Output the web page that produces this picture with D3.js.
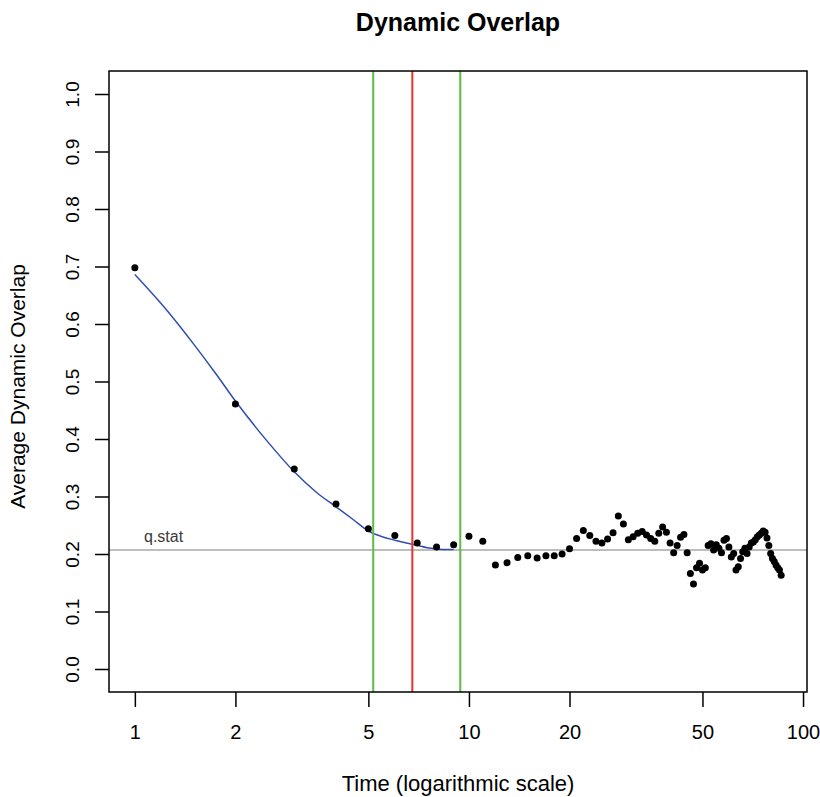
<!DOCTYPE html>
<html><head><meta charset="utf-8">
<script src="https://cdn.jsdelivr.net/npm/d3@7"></script>
<style>body{margin:0;background:#fff}</style>
</head><body>
<script>
const times = d3.range(1, 87);
const overlap = [0.698,0.461,0.348,0.287,0.244,0.232,0.219,0.212,0.216,0.231,
0.222,0.181,0.185,0.194,0.197,0.193,0.197,0.197,0.200,0.209,
0.227,0.241,0.232,0.222,0.219,0.226,0.237,0.266,0.252,0.225,
0.230,0.236,0.239,0.233,0.227,0.222,0.236,0.247,0.238,0.219,
0.202,0.215,0.229,0.234,0.202,0.166,0.148,0.176,0.184,0.172,
0.176,0.215,0.218,0.207,0.216,0.210,0.202,0.224,0.227,0.212,
0.195,0.201,0.172,0.178,0.192,0.204,0.210,0.201,0.212,0.219,
0.221,0.225,0.230,0.233,0.236,0.240,0.238,0.228,0.215,0.201,
0.192,0.187,0.181,0.176,0.172,0.163];
const smoothT = [1,1.25,1.5,1.75,2,2.5,3,3.5,4,4.5,5,5.5,6,6.5,7,7.5,8,8.5,9];
const smoothY = [0.686,0.623,0.565,0.513,0.466,0.395,0.343,0.307,0.282,0.260,0.240,0.230,0.224,0.219,0.215,0.211,0.209,0.208,0.208];
const xTicks = [1,2,5,10,20,50,100];
const yTicks = [0,0.1,0.2,0.3,0.4,0.5,0.6,0.7,0.8,0.9,1.0];
const qStat = 0.207;
const greenLines = [5.17, 9.42];
const redLine = 6.77;

const W = 820, H = 797;
const L = 109, R = 807, T = 71, B = 692;
const FONT = "'Liberation Sans', Arial, sans-serif";
const svg = d3.select("body").append("svg").attr("width", W).attr("height", H)
  .style("font-family", FONT);

const lmin = 0, lmax = Math.log10(86), ext = (lmax - lmin) * 0.04;
const x = d3.scaleLog().domain([Math.pow(10, lmin - ext), Math.pow(10, lmax + ext)]).range([L, R]);
const y = d3.scaleLinear().domain([-0.04, 1.04]).range([B, T]);

svg.append("clipPath").attr("id", "c").append("rect")
  .attr("x", L).attr("y", T).attr("width", R - L).attr("height", B - T);
const g = svg.append("g").attr("clip-path", "url(#c)");

// q.stat line
g.append("line").attr("x1", L).attr("x2", R).attr("y1", y(qStat)).attr("y2", y(qStat))
  .attr("stroke", "#bdbdbd").attr("stroke-width", 2);
svg.append("text").attr("x", 144).attr("y", 542).text("q.stat")
  .attr("font-size", 16).attr("fill", "#3a3a3a");

// smooth line
g.append("path").datum(smoothT.map((t, i) => [t, smoothY[i]]))
  .attr("d", d3.line().x(d => x(d[0])).y(d => y(d[1])).curve(d3.curveMonotoneX))
  .attr("fill", "none").attr("stroke", "#2f4fb0").attr("stroke-width", 1.5);

// vertical lines
greenLines.forEach(v => g.append("line").attr("x1", x(v)).attr("x2", x(v)).attr("y1", T).attr("y2", B)
  .attr("stroke", "#5cbc45").attr("stroke-width", 2));
g.append("line").attr("x1", x(redLine)).attr("x2", x(redLine)).attr("y1", T).attr("y2", B)
  .attr("stroke", "#e8322c").attr("stroke-width", 2);

// points
g.selectAll("circle.p").data(times.map((t, i) => [t, overlap[i]])).enter().append("circle")
  .attr("cx", d => x(d[0])).attr("cy", d => y(d[1])).attr("r", 3.5).attr("fill", "#000");

// box
svg.append("rect").attr("x", L).attr("y", T).attr("width", R - L).attr("height", B - T)
  .attr("fill", "none").attr("stroke", "#000").attr("stroke-width", 1.5);

// x axis
const xa = svg.append("g").attr("transform", `translate(0,${B})`)
  .call(d3.axisBottom(x).tickValues(xTicks).tickFormat(d3.format("d")).tickSize(15).tickPadding(18));
xa.select(".domain").remove();
xa.selectAll("line").attr("stroke", "#000").attr("stroke-width", 1.5);
xa.selectAll("text").attr("font-size", 20).attr("fill", "#000").style("font-family", FONT);

// y axis
const ya = svg.append("g").attr("transform", `translate(${L},0)`)
  .call(d3.axisLeft(y).tickValues(yTicks).tickFormat(d3.format(".1f")).tickSize(14).tickPadding(0));
ya.select(".domain").remove();
ya.selectAll("line").attr("stroke", "#000").attr("stroke-width", 1.5);
ya.selectAll("text").attr("font-size", 19).attr("fill", "#000")
  .style("font-family", FONT)
  .attr("x", 0).attr("y", 0).attr("dy", null)
  .attr("text-anchor", "middle")
  .attr("dominant-baseline", "central")
  .attr("transform", "translate(-37,0) rotate(-90)");

// titles
svg.append("text").attr("x", (L + R) / 2).attr("y", 31).attr("text-anchor", "middle")
  .attr("font-size", 25).attr("font-weight", "bold").text("Dynamic Overlap");
svg.append("text").attr("x", (L + R) / 2).attr("y", 791).attr("text-anchor", "middle")
  .attr("font-size", 22).text("Time (logarithmic scale)");
svg.append("text").attr("transform", `translate(25,${(T + B) / 2 + 5}) rotate(-90)`).attr("text-anchor", "middle")
  .attr("font-size", 21).text("Average Dynamic Overlap");
</script>
</body></html>
